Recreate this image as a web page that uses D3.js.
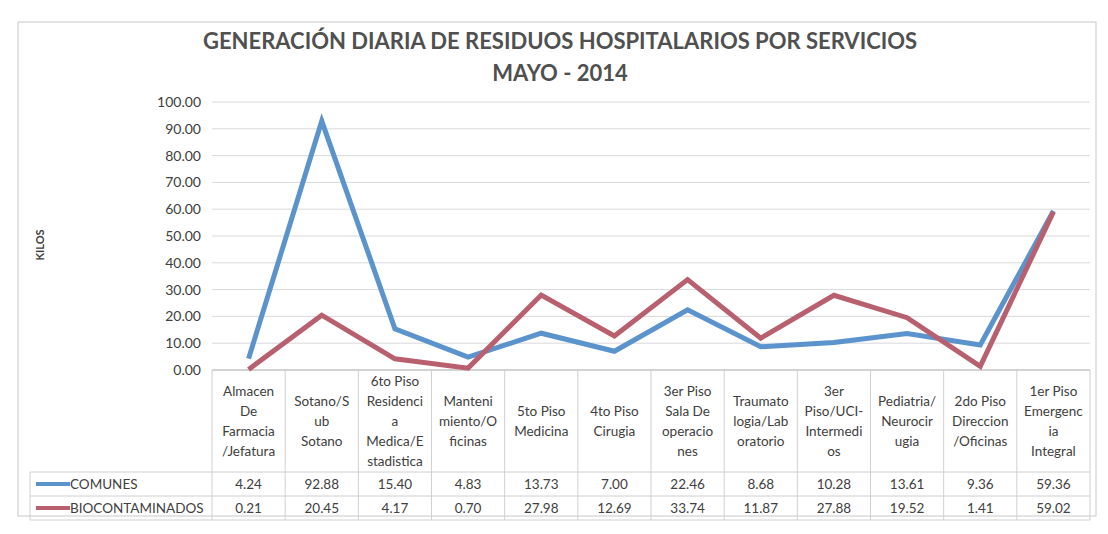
<!DOCTYPE html>
<html>
<head>
<meta charset="utf-8">
<script src="https://cdn.jsdelivr.net/npm/d3@7"></script>
<style>
  body { margin: 0; background: #fff; }
  text { font-family: Lato, "Open Sans", sans-serif; fill: #404040; }
</style>
</head>
<body>
<svg id="canvas" width="1108" height="534"></svg>
<script>
"use strict"

// category labels, already wrapped the way the table shows them
let categories = [
    ["Almacen", "De", "Farmacia", "/Jefatura"],
    ["Sotano/S", "ub", "Sotano"],
    ["6to Piso", "Residenci", "a", "Medica/E", "stadistica"],
    ["Manteni", "miento/O", "ficinas"],
    ["5to Piso", "Medicina"],
    ["4to Piso", "Cirugia"],
    ["3er Piso", "Sala De", "operacio", "nes"],
    ["Traumato", "logia/Lab", "oratorio"],
    ["3er", "Piso/UCI-", "Intermedi", "os"],
    ["Pediatria/", "Neurocir", "ugia"],
    ["2do Piso", "Direccion", "/Oficinas"],
    ["1er Piso", "Emergenc", "ia", "Integral"]
];
let comunes = [4.24, 92.88, 15.40, 4.83, 13.73, 7.00, 22.46, 8.68, 10.28, 13.61, 9.36, 59.36];
let biocontaminados = [0.21, 20.45, 4.17, 0.70, 27.98, 12.69, 33.74, 11.87, 27.88, 19.52, 1.41, 59.02];
let seriesNames = ["COMUNES", "BIOCONTAMINADOS"];
let yTicks = [0, 10, 20, 30, 40, 50, 60, 70, 80, 90, 100];

let colors = ["#5b93cd", "#b9606f"];
let series = [comunes, biocontaminados];

let drawing = d3.select("#canvas");

/* chart border */
drawing.append("rect")
    .attr("x", 18).attr("y", 22)
    .attr("width", 1078).attr("height", 494)
    .attr("fill", "none")
    .attr("stroke", "#c8c8c8");

/* title */
drawing.append("text")
    .attr("x", 560).attr("y", 49)
    .attr("text-anchor", "middle")
    .attr("font-size", 22).attr("font-weight", "bold")
    .style("fill", "#505050")
    .text("GENERACIÓN DIARIA DE RESIDUOS HOSPITALARIOS POR SERVICIOS");
drawing.append("text")
    .attr("x", 560).attr("y", 81)
    .attr("text-anchor", "middle")
    .attr("font-size", 22).attr("font-weight", "bold")
    .style("fill", "#505050")
    .text("MAYO - 2014");

// scales
let x = d3.scaleBand().domain(d3.range(categories.length)).range([212, 1090]);
let y = d3.scaleLinear().domain([0, 100]).range([370, 102]);

/* gridlines */
drawing.append("g").selectAll("line")
    .data(yTicks)
    .join("line")
    .attr("x1", 212).attr("x2", 1090)
    .attr("y1", d => y(d)).attr("y2", d => y(d))
    .attr("stroke", d => d == 0 ? "#a6a6a6" : "#d9d9d9");

/* y axis labels */
let yAxis = drawing.append("g")
    .attr("transform", "translate(212,0)")
    .call(d3.axisLeft(y).tickValues(yTicks).tickFormat(d3.format(".2f")).tickSize(0).tickPadding(11));
yAxis.select(".domain").remove();
yAxis.selectAll("text").attr("font-size", 14).attr("font-family", "Lato, sans-serif").style("fill", "#404040");

drawing.append("text")
    .attr("transform", "translate(44,245) rotate(-90)")
    .attr("text-anchor", "middle")
    .attr("font-size", 11).attr("font-weight", "bold")
    .text("KILOS");

/* lines */
let line = d3.line()
    .x((d, i) => x(i) + x.bandwidth() / 2)
    .y(d => y(d));

series.forEach((s, k) => {
    drawing.append("path")
        .datum(s)
        .attr("d", line)
        .attr("fill", "none")
        .attr("stroke", colors[k])
        .attr("stroke-width", 5)
        .attr("stroke-linejoin", "miter");
});

/* data table */
let table = drawing.append("g");
let rowTop = [472, 496];
let rowBottom = 520;

// vertical cell borders
table.selectAll(".vline")
    .data(d3.range(categories.length + 1))
    .join("line")
    .attr("x1", i => i < categories.length ? x(i) : x.range()[1])
    .attr("x2", i => i < categories.length ? x(i) : x.range()[1])
    .attr("y1", 370).attr("y2", rowBottom)
    .attr("stroke", "#d0d0d0");

// horizontal borders
[472, 496, 520].forEach(yy => {
    table.append("line")
        .attr("x1", 30).attr("x2", 1090)
        .attr("y1", yy).attr("y2", yy)
        .attr("stroke", "#d0d0d0");
});
table.append("line")
    .attr("x1", 30).attr("x2", 30)
    .attr("y1", 472).attr("y2", rowBottom)
    .attr("stroke", "#d0d0d0");

// header labels
categories.forEach((lines, i) => {
    let t = table.append("text")
        .attr("text-anchor", "middle")
        .attr("font-size", 13.5);
    let top = 421 - (lines.length - 1) * 10;
    lines.forEach((ln, j) => {
        t.append("tspan")
            .attr("x", x(i) + x.bandwidth() / 2)
            .attr("y", top + j * 20 + 5)
            .text(ln);
    });
});

// value rows + legend keys
series.forEach((s, k) => {
    let cy = rowTop[k] + 12;
    table.append("line")
        .attr("x1", 36).attr("x2", 70)
        .attr("y1", cy).attr("y2", cy)
        .attr("stroke", colors[k])
        .attr("stroke-width", 4);
    table.append("text")
        .attr("x", 70).attr("y", cy + 5)
        .attr("font-size", 13.5)
        .text(seriesNames[k]);
    table.selectAll(".v" + k)
        .data(s)
        .join("text")
        .attr("x", (d, i) => x(i) + x.bandwidth() / 2)
        .attr("y", cy + 5)
        .attr("text-anchor", "middle")
        .attr("font-size", 13.5)
        .text(d => d3.format(".2f")(d));
});
</script>
</body>
</html>
